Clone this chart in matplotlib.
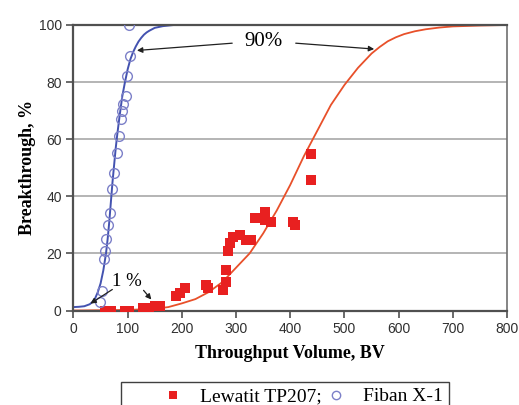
import matplotlib.pyplot as plt
import numpy as np

# Lewatit TP207 measured breakthrough (BV, %)
lew_x = [58, 70, 95, 103, 128, 140, 150, 160, 190, 196, 206, 245, 248, 276, 282, 282,
         285, 288, 295, 307, 319, 328, 335, 353, 353, 365, 405, 408, 439, 439]
lew_y = [0, 0, 0, 0, 0.8, 1.0, 1.5, 1.5, 5.0, 6.0, 7.8, 8.9, 7.8, 7.2, 10.0, 14.2,
         21.0, 23.5, 25.9, 26.4, 24.7, 24.7, 32.3, 34.6, 31.7, 31.1, 31.1, 30.0, 54.8, 45.7]

# Fiban X-1 measured breakthrough
fib_x = [48, 52, 56, 58, 60, 63, 68, 71, 75, 80, 84, 88, 90, 92, 96, 99, 105, 102]
fib_y = [3, 7, 18, 21, 25, 30, 34, 42.5, 48, 55, 61, 67, 70, 72.5, 75, 82, 89, 100]

# fitted curves
fib_fit_x = [0, 10, 20, 30, 35, 40, 45, 50, 55, 60, 63, 66, 69, 72, 75, 78, 81, 85, 90,
             95, 100, 105, 110, 115, 120, 125, 130, 135, 140, 150, 165, 185, 800]
fib_fit_y = [1.2, 1.3, 1.5, 2.2, 3, 4.3, 6.5, 9.5, 14, 20, 25, 31, 38, 45, 51, 57, 62, 68, 75,
             80, 84.5, 88, 90.5, 92.5, 94.2, 95.5, 96.6, 97.4, 98, 99, 99.6, 100, 100]

lew_fit_x = [0, 100, 150, 175, 200, 225, 250, 275, 300, 325, 350, 375, 400, 425, 450, 475,
             500, 525, 550, 565, 580, 595, 610, 630, 650, 675, 700, 750, 800]
lew_fit_y = [0, 0.2, 0.6, 1.2, 2.5, 4, 6.5, 10, 15, 20, 27, 35, 44, 54, 63, 72,
             79, 85, 90, 92.3, 94.3, 95.7, 96.8, 97.8, 98.5, 99.1, 99.5, 99.8, 100]

fig = plt.figure(figsize=(5.19, 4.05), dpi=100)
ax = fig.add_axes([0.1416, 0.2333, 0.8353, 0.705])

for yv in [20, 40, 60, 80]:
    ax.axhline(yv, color='#a8a8a8', lw=1.2, zorder=0)

ax.plot(lew_fit_x, lew_fit_y, color='#e8502a', lw=1.3, zorder=2)
ax.plot(fib_fit_x, fib_fit_y, color='#4352b0', lw=1.4, zorder=2)
ax.plot(lew_x, lew_y, 's', color='#e82020', markersize=6.5, markeredgewidth=0, zorder=3)
ax.plot(fib_x, fib_y, 'o', markerfacecolor='none', markeredgecolor='#7c80c8',
        markersize=7, markeredgewidth=1.0, zorder=3)

ax.set_xlim(0, 800)
ax.set_ylim(0, 100)
ax.set_xticks(range(0, 801, 100))
ax.set_yticks(range(0, 101, 20))

for side in ['left', 'bottom', 'top']:
    ax.spines[side].set_color('#505050')
    ax.spines[side].set_linewidth(1.6)
ax.spines['right'].set_color('#707070')
ax.spines['right'].set_linewidth(1.2)

ax.tick_params(direction='out', length=5, width=1.2, color='#505050',
               labelsize=10, labelcolor='#303030')
for lbl in ax.get_xticklabels() + ax.get_yticklabels():
    lbl.set_fontfamily('Liberation Sans')

ax.set_xlabel('Throughput Volume, BV', family='Liberation Serif', fontweight='bold',
              fontsize=13, labelpad=6)
ax.set_ylabel('Breakthrough, %', family='Liberation Serif', fontweight='bold',
              fontsize=13, labelpad=2)

arrow = dict(arrowstyle='-|>', color='#202020', lw=0.9, mutation_scale=8)
ax.text(351, 94.3, '90%', family='Liberation Serif', fontsize=15, ha='center', va='center')
ax.annotate('', xy=(112, 91), xytext=(298, 93.7), arrowprops=arrow)
ax.annotate('', xy=(560, 91.5), xytext=(405, 93.7), arrowprops=arrow)

ax.text(99, 10.3, '1 %', family='Liberation Serif', fontsize=13.5, ha='center', va='center')
ax.annotate('', xy=(27, 1.9), xytext=(76, 7.9), arrowprops=arrow)
ax.annotate('', xy=(147, 3.1), xytext=(126, 7.8), arrowprops=arrow)

h1 = plt.Line2D([], [], marker='s', ls='none', color='#e82020', markersize=6, markeredgewidth=0)
h2 = plt.Line2D([], [], marker='o', ls='none', markerfacecolor='none',
                markeredgecolor='#7c80c8', markersize=6, markeredgewidth=1.0)
leg = fig.legend([h1, h2], ['Lewatit TP207;', 'Fiban X-1'], loc='upper center',
                 bbox_to_anchor=(0.549, 0.081), ncol=2, frameon=True, fancybox=False,
                 edgecolor='#404040', framealpha=1, borderpad=0.3, handlelength=4.75,
                 handletextpad=-1.0, columnspacing=-1.6,
                 prop={'family': 'Liberation Serif', 'size': 14})
leg.get_frame().set_linewidth(1.0)

fig.savefig('out.png', dpi=100)
